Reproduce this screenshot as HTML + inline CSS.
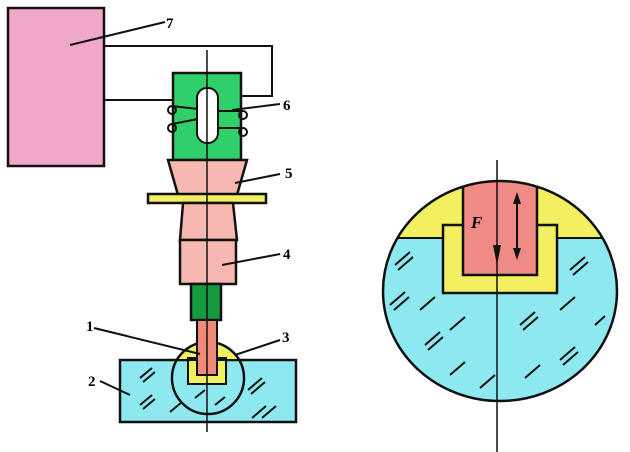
<!DOCTYPE html>
<html><head><style>body{margin:0;background:#fff}svg{display:block}</style></head><body>
<svg width="630" height="452" viewBox="0 0 630 452" xmlns="http://www.w3.org/2000/svg" font-family="Liberation Serif, serif" font-weight="bold">
<defs>
<clipPath id="c1"><ellipse cx="500" cy="291" rx="117" ry="110"/></clipPath>
<clipPath id="c2"><circle cx="208" cy="378" r="36"/></clipPath>
</defs>
<rect width="630" height="452" fill="#fff"/>
<!-- box 7 -->
<rect x="8" y="8" width="96" height="158" fill="#f0a8c8" stroke="#111" stroke-width="2.5"/>
<line x1="70" y1="45" x2="165" y2="22" stroke="#111" stroke-width="2"/>
<text x="166" y="28" font-size="15">7</text>
<polyline points="104,46 272,46 272,96 241,96" fill="none" stroke="#111" stroke-width="2"/>
<line x1="104" y1="100" x2="198" y2="100" stroke="#111" stroke-width="2"/>
<!-- green box 6 -->
<rect x="173" y="73" width="68" height="87" fill="#2fcf6a" stroke="#111" stroke-width="2.5"/>
<rect x="197" y="88" width="21" height="55" rx="10" fill="#fff" stroke="#111" stroke-width="2"/>
<g fill="none" stroke="#111" stroke-width="2">
<ellipse cx="172" cy="110" rx="4" ry="4"/><ellipse cx="172" cy="128" rx="4" ry="4"/>
<ellipse cx="243" cy="115" rx="4" ry="4"/><ellipse cx="243" cy="132" rx="4" ry="4"/>
<line x1="172" y1="106" x2="198" y2="109"/><line x1="172" y1="124" x2="198" y2="119"/>
<line x1="218" y1="111" x2="243" y2="111"/><line x1="218" y1="128" x2="243" y2="128"/>
</g>
<line x1="232" y1="110" x2="280" y2="104" stroke="#111" stroke-width="2"/>
<text x="283" y="110" font-size="15">6</text>
<!-- cone 5 -->
<polygon points="168,160 247,160 237,195 178,195" fill="#f6b8b0" stroke="#111" stroke-width="2.5"/>
<rect x="148" y="194" width="118" height="9" fill="#f2f060" stroke="#111" stroke-width="2.5"/>
<polygon points="183,203 233,203 237,240 180,240" fill="#f6b8b0" stroke="#111" stroke-width="2.5"/>
<line x1="235" y1="183" x2="280" y2="174" stroke="#111" stroke-width="2"/>
<text x="285" y="178" font-size="15">5</text>
<rect x="180" y="240" width="56" height="44" fill="#f6b8b0" stroke="#111" stroke-width="2.5"/>
<line x1="222" y1="265" x2="280" y2="254" stroke="#111" stroke-width="2"/>
<text x="283" y="259" font-size="15">4</text>
<rect x="191" y="284" width="30" height="36" fill="#159a40" stroke="#111" stroke-width="2.5"/>
<!-- workpiece -->
<rect x="120" y="360" width="176" height="62" fill="#8ee8f0" stroke="#111" stroke-width="2.5"/>
<g clip-path="url(#c2)">
<rect x="160" y="330" width="100" height="30" fill="#f2f060"/>
<rect x="188" y="358" width="38" height="26" fill="#f2f060" stroke="#111" stroke-width="2"/>
</g>
<circle cx="208" cy="378" r="36" fill="none" stroke="#111" stroke-width="2.5"/>
<line x1="172" y1="360" x2="244" y2="360" stroke="#111" stroke-width="2"/>
<rect x="197" y="320" width="20" height="55" fill="#ef8a78" stroke="#111" stroke-width="2"/>
<g stroke="#111" stroke-width="2">
<line x1="140" y1="378" x2="152" y2="368"/><line x1="143" y1="382" x2="155" y2="372"/>
<line x1="140" y1="405" x2="152" y2="395"/><line x1="143" y1="409" x2="155" y2="399"/>
<line x1="248" y1="390" x2="262" y2="378"/><line x1="251" y1="394" x2="265" y2="382"/>
<line x1="262" y1="418" x2="276" y2="406"/><line x1="252" y1="418" x2="266" y2="406"/>
<line x1="170" y1="412" x2="182" y2="402"/><line x1="195" y1="398" x2="205" y2="390"/>
<line x1="215" y1="405" x2="225" y2="397"/>
</g>
<line x1="94" y1="328" x2="200" y2="354" stroke="#111" stroke-width="2"/>
<text x="86" y="331" font-size="15">1</text>
<line x1="235" y1="355" x2="280" y2="340" stroke="#111" stroke-width="2"/>
<text x="282" y="342" font-size="15">3</text>
<line x1="100" y1="381" x2="130" y2="395" stroke="#111" stroke-width="2"/>
<text x="88" y="386" font-size="15">2</text>
<line x1="207" y1="50" x2="207" y2="432" stroke="#111" stroke-width="1.5"/>
<!-- right detail -->
<g clip-path="url(#c1)">
<rect x="380" y="170" width="240" height="240" fill="#8ee8f0"/>
<rect x="380" y="170" width="240" height="68" fill="#f2f060"/>
<line x1="380" y1="238" x2="620" y2="238" stroke="#111" stroke-width="2"/>
<rect x="443" y="225" width="114" height="68" fill="#f2f060" stroke="#111" stroke-width="2.5"/>
<rect x="463" y="175" width="74" height="100" fill="#f08a84" stroke="#111" stroke-width="2.5"/>
<g stroke="#111" stroke-width="2">
<line x1="395" y1="265" x2="410" y2="252"/><line x1="398" y1="270" x2="413" y2="257"/>
<line x1="390" y1="305" x2="405" y2="292"/><line x1="394" y1="310" x2="409" y2="297"/>
<line x1="420" y1="310" x2="435" y2="297"/><line x1="450" y1="330" x2="465" y2="317"/>
<line x1="425" y1="345" x2="440" y2="332"/><line x1="428" y1="350" x2="443" y2="337"/>
<line x1="450" y1="375" x2="465" y2="362"/><line x1="480" y1="388" x2="495" y2="375"/>
<line x1="520" y1="325" x2="535" y2="312"/><line x1="523" y1="330" x2="538" y2="317"/>
<line x1="560" y1="310" x2="575" y2="297"/><line x1="570" y1="270" x2="585" y2="257"/>
<line x1="573" y1="275" x2="588" y2="262"/><line x1="560" y1="360" x2="575" y2="347"/>
<line x1="563" y1="365" x2="578" y2="352"/><line x1="595" y1="325" x2="605" y2="316"/>
<line x1="525" y1="378" x2="540" y2="365"/>
</g>
</g>
<ellipse cx="500" cy="291" rx="117" ry="110" fill="none" stroke="#111" stroke-width="2.5"/>
<line x1="497" y1="160" x2="497" y2="452" stroke="#111" stroke-width="1.5"/>
<polygon points="493,245 501,245 497,265" fill="#111"/>
<line x1="517" y1="198" x2="517" y2="254" stroke="#111" stroke-width="2"/>
<polygon points="513,204 521,204 517,192" fill="#111"/>
<polygon points="513,248 521,248 517,260" fill="#111"/>
<text x="471" y="228" font-size="17" font-style="italic">F</text>
</svg>
</body></html>
